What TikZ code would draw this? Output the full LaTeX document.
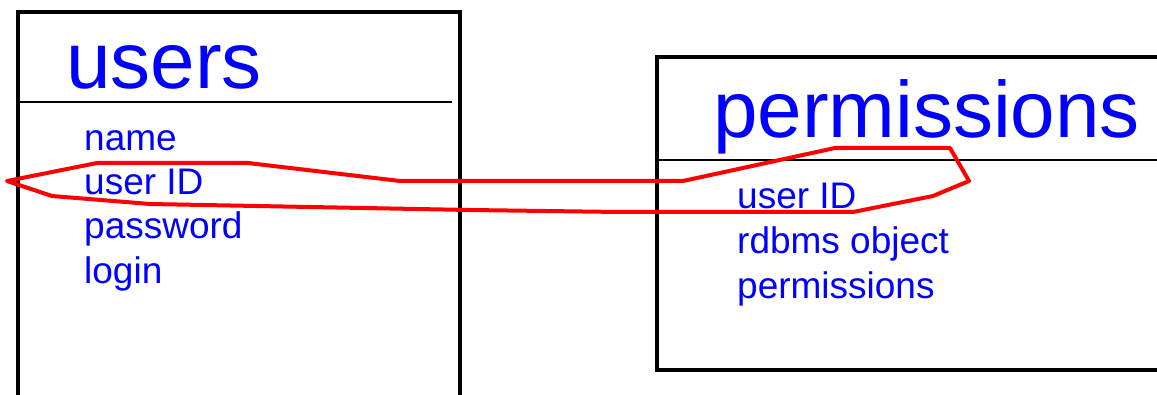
\documentclass[tikz,border=0pt]{standalone}
\usepackage{fontspec}
\setmainfont{Liberation Sans}
\usetikzlibrary{calc}
\usepackage{xcolor}

\definecolor{tblblue}{RGB}{0,0,255}
\definecolor{loopred}{RGB}{255,0,0}

\tikzset{
  tblframe/.style={black, line width=4pt, line join=miter},
  tblrule/.style={black, line width=1.8pt},
  tbltitle/.style={text=tblblue, inner sep=0, anchor=base west, font=\fontsize{80}{80}\selectfont},
  tblfield/.style={text=tblblue, inner sep=0, anchor=base west, font=\fontsize{37}{37}\selectfont},
}

\begin{document}
\begin{tikzpicture}[x=1pt, y=-1pt]
\useasboundingbox (0,0) rectangle (1157,395);
\clip (0,0) rectangle (1157,395);
% users table
\draw[tblframe] (18,420) -- (18,12) -- (460,12) -- (460,420);
\draw[tblrule] (18,102) -- (452,102);
\node[tbltitle] (users) at (66,89) {users};
\foreach \f/\y in {name/151, user ID/195, password/239, login/284} {
 \node[tblfield] (users-\f) at (84,\y) {\f};
}
% permissions table
\draw[tblframe] (1170,57) -- (657,57) -- (657,370) -- (1170,370);
\draw[tblrule] (657,160) -- (1170,160);
\node[tbltitle] (perms) at (713,138) {permissions};
\foreach \f/\y in {user ID/209, rdbms object/254, permissions/299} {
 \node[tblfield] (perms-\f) at (737,\y) {\f};
}
% hand-drawn link round both user ID fields
\draw[loopred, line width=4pt, line join=round]
  (7,181) -- (97,163) -- (248,163) -- (400,181) -- (683,181) -- (835,148)
  -- (950,148) -- (969,181) -- (933,196) -- (853,212) -- (620,212)
  -- (470,210) -- (150,204) -- (52,196) -- cycle;
\end{tikzpicture}
\end{document}
